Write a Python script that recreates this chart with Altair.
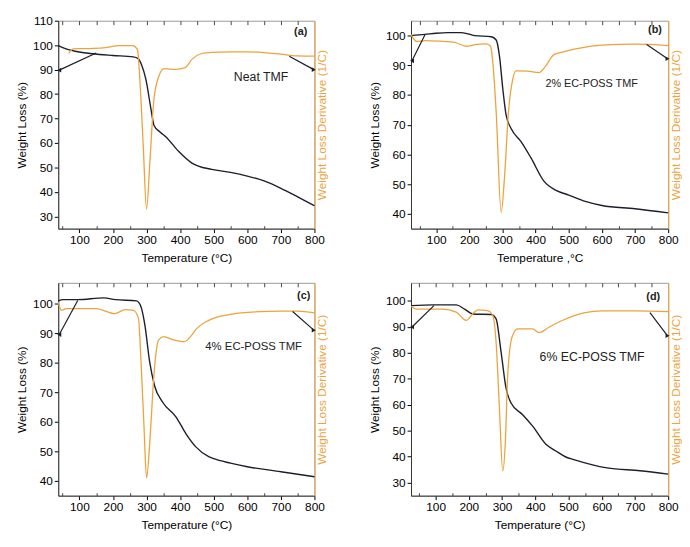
import altair as alt
import pandas as pd

BLACK = "#1c1f2b"
ORANGE = "#ECA33C"
FONT = "Liberation Sans"

X_TICKS = [100, 200, 300, 400, 500, 600, 700, 800]
X_MINOR = [50, 100, 150, 200, 250, 300, 350, 400, 450, 500, 550, 600, 650, 700, 750]
X_MINOR_BOTTOM = [50, 150, 250, 350, 450, 550, 650, 750]

# ---- Panel (a): Neat TMF ----
TA_W = [37, 60, 100, 140, 200, 260, 275, 285, 298, 313, 322, 340, 357, 396, 435, 494, 550, 600, 650, 700, 750, 800]
WA = [99.8, 98.5, 97.2, 96.5, 95.8, 95.2, 94.5, 92, 86, 74, 67.3, 64.5, 62.6, 56.5, 51.8, 49.2, 48, 46.5, 44.5, 41.5, 38, 34.4]
TA_D = [68, 82, 120, 170, 220, 259, 273, 280, 290, 300, 310, 322, 337, 352, 386, 415, 435, 464, 494, 550, 600, 650, 700, 750, 800]
DA = [96.6, 98.5, 98.6, 98.9, 99.8, 99.8, 98.2, 86, 59.2, 33, 52.5, 78, 87.5, 90.4, 90.1, 90.8, 94.2, 96.6, 97.1, 97.3, 97.3, 97.0, 96.3, 95.6, 95.5]
ARROWS_A = [(150, 96.8, 40, 89.8), (725, 95.5, 798, 90.0)]

# ---- Panel (b): 2% EC-POSS TMF ----
TB_W = [24, 66, 100, 136, 176, 216, 266, 281, 291, 301, 311, 326, 356, 386, 425, 465, 500, 550, 600, 700, 800]
WB = [100, 100.4, 100.8, 101, 101, 100, 99.6, 98.5, 93, 82, 73.2, 68.7, 64.3, 58.8, 51, 47.7, 46.3, 44.2, 42.8, 41.7, 40.3]
TB_D = [24, 41, 66, 110, 156, 191, 221, 251, 264, 271, 281, 296, 306, 318, 331, 341, 376, 410, 430, 455, 480, 520, 600, 700, 800]
DB = [100.3, 98, 98.3, 98.1, 97.7, 96.4, 97, 97.2, 96.4, 90.8, 74.2, 40.5, 52.1, 74.2, 85.3, 88.1, 88, 87.5, 89.7, 93.6, 94.4, 95.5, 96.8, 97.1, 96.6]
ARROWS_B = [(66, 100.3, 27, 91.5), (735, 97.0, 798, 92.2)]

# ---- Panel (c): 4% EC-POSS TMF ----
TC_W = [37, 51, 95, 173, 207, 270, 282, 295, 309, 324, 348, 388, 417, 446, 485, 500, 550, 600, 700, 800]
WC = [100.9, 101.3, 101.3, 101.9, 101.3, 100.9, 99.3, 92.7, 80.4, 72.1, 66.6, 61.6, 56, 51.6, 48.2, 47.5, 46, 44.8, 43.1, 41.4]
TC_D = [37, 47, 60, 100, 150, 205, 237, 261, 276, 283, 292, 300, 310, 322, 336, 351, 380, 412, 431, 450, 485, 550, 600, 700, 750, 800]
DC = [100.5, 97.7, 98.3, 98.3, 98.3, 96.6, 97.9, 97.7, 94.9, 81.6, 59.3, 41, 53.8, 76, 87.7, 88.8, 87.7, 87.1, 88.8, 91.6, 94.3, 96.3, 97, 97.4, 97.4, 96.8]
ARROWS_C = [(95, 101.0, 40, 89.5), (735, 97.3, 798, 91.0)]

# ---- Panel (d): 6% EC-POSS TMF ----
TD_W = [26, 92, 162, 187, 212, 267, 282, 297, 312, 327, 362, 392, 432, 462, 492, 516, 616, 715, 800]
WD = [98.2, 98.5, 98.5, 96.9, 95, 94.8, 93.1, 80.4, 66.4, 60.7, 56.2, 51.8, 44.8, 42.2, 39.9, 38.9, 35.7, 34.6, 33.3]
TD_D = [26, 42, 62, 120, 162, 192, 212, 227, 256, 272, 282, 292, 302, 310, 317, 330, 347, 392, 411, 441, 481, 550, 600, 700, 800]
DD = [98, 96.9, 96.9, 96.9, 95.7, 92.5, 95.1, 96.6, 96.3, 94.4, 84.2, 58.8, 34.6, 46, 71.5, 86.1, 89.3, 89.3, 87.8, 89.9, 92.5, 95.5, 96.2, 96.2, 95.9]
ARROWS_D = [(95, 98.2, 29, 90.0), (745, 95.5, 798, 86.6)]

PANELS = [
    dict(tag="(a)", TW=TA_W, W=WA, TD=TA_D, D=DA, arrows=ARROWS_A, xdom=[37, 800],
         dom=[25, 110], yticks=[30, 40, 50, 60, 70, 80, 90, 100, 110],
         name="Neat TMF", name_xy=(641, 86.8), name_size=12.5, tag_xy=(759, 105.3),
         xtitle="Temperature (°C)"),
    dict(tag="(b)", TW=TB_W, W=WB, TD=TB_D, D=DB, arrows=ARROWS_B, xdom=[24, 800],
         dom=[35, 105], yticks=[40, 50, 60, 70, 80, 90, 100],
         name="2% EC-POSS TMF", name_xy=(569, 83.6), name_size=11, tag_xy=(760, 101.9),
         xtitle="Temperature ,°C"),
    dict(tag="(c)", TW=TC_W, W=WC, TD=TC_D, D=DC, arrows=ARROWS_C, xdom=[37, 800],
         dom=[35, 107], yticks=[40, 50, 60, 70, 80, 90, 100],
         name="4% EC-POSS TMF", name_xy=(619, 85.3), name_size=11.5, tag_xy=(768, 102.5),
         xtitle="Temperature (°C)"),
    dict(tag="(d)", TW=TD_W, W=WD, TD=TD_D, D=DD, arrows=ARROWS_D, xdom=[26, 800],
         dom=[25, 107], yticks=[30, 40, 50, 60, 70, 80, 90, 100],
         name="6% EC-POSS TMF", name_xy=(571, 78.4), name_size=12.5, tag_xy=(755, 101.5),
         xtitle="Temperature (°C)"),
]


def panel(p, w, h):
    xsc = alt.Scale(domain=p["xdom"], nice=False, zero=False)
    ysc = alt.Scale(domain=p["dom"], nice=False, zero=False)
    xaxis = alt.Axis(values=X_TICKS, title=p["xtitle"], grid=False, orient="bottom", labelFlush=False,
                     labelColor="black", tickColor="black", domainColor="#333", titlePadding=7)

    dfw = pd.DataFrame({"T": p["TW"], "V": p["W"]})
    dfd = pd.DataFrame({"T": p["TD"], "V": p["D"]})
    dfa = pd.DataFrame(p["arrows"], columns=["T", "V", "T2", "V2"])
    dfa["shp"] = ["triangle-left", "triangle-right"]
    dft = pd.DataFrame({"T": X_MINOR, "V": [p["dom"][0]] * len(X_MINOR)})
    dfb = pd.DataFrame({"T": X_MINOR_BOTTOM, "V": [p["dom"][0]] * len(X_MINOR_BOTTOM)})

    black = alt.Chart(dfw).mark_line(color=BLACK, strokeWidth=1.4, interpolate="monotone").encode(
        x=alt.X("T:Q", scale=xsc, axis=xaxis),
        y=alt.Y("V:Q", scale=ysc, axis=alt.Axis(values=p["yticks"], title="Weight Loss (%)", grid=False,
                                                 orient="left", labelColor="black", tickColor="black",
                                                 domainColor="#333")),
    )
    orange = alt.Chart(dfd).mark_line(color=ORANGE, strokeWidth=1.3, interpolate="monotone").encode(
        x=alt.X("T:Q", scale=xsc, axis=None),
        y=alt.Y("V:Q", scale=ysc, axis=alt.Axis(orient="right", labels=False, ticks=False, grid=False,
                                                 title="Weight Loss Derivative (1/C)", titleColor=ORANGE,
                                                 domainColor=ORANGE, titleAngle=270, titleBaseline="top",
                                                 titlePadding=2)),
    )
    rules = alt.Chart(dfa).mark_rule(color=BLACK, strokeWidth=1.2).encode(
        x=alt.X("T:Q", scale=xsc, axis=None),
        y=alt.Y("V:Q", scale=ysc, axis=None),
        x2="T2:Q", y2="V2:Q",
    )
    heads = alt.Chart(dfa).mark_point(filled=True, color=BLACK, size=22, opacity=1).encode(
        x=alt.X("T2:Q", scale=xsc, axis=None),
        y=alt.Y("V2:Q", scale=ysc, axis=None),
        shape=alt.Shape("shp:N", scale=None),
    )
    name = alt.Chart(pd.DataFrame({"T": [p["name_xy"][0]], "V": [p["name_xy"][1]], "label": [p["name"]]})).mark_text(
        font=FONT, fontSize=p["name_size"], color="#222"
    ).encode(x=alt.X("T:Q", scale=xsc, axis=None), y=alt.Y("V:Q", scale=ysc, axis=None), text="label:N")
    tag = alt.Chart(pd.DataFrame({"T": [p["tag_xy"][0]], "V": [p["tag_xy"][1]], "label": [p["tag"]]})).mark_text(
        font=FONT, fontSize=11, fontWeight="bold", color="#222"
    ).encode(x=alt.X("T:Q", scale=xsc, axis=None), y=alt.Y("V:Q", scale=ysc, axis=None), text="label:N")

    top_ticks = alt.Chart(dft).mark_point(opacity=0).encode(
        x=alt.X("T:Q", scale=xsc, axis=alt.Axis(orient="top", values=X_MINOR, labels=False, domain=False,
                                                 tickSize=4, offset=-4, title=None, tickColor="#444",
                                                 grid=False)),
        y=alt.Y("V:Q", scale=ysc, axis=None),
    )
    bottom_minor = alt.Chart(dfb).mark_point(opacity=0).encode(
        x=alt.X("T:Q", scale=xsc, axis=alt.Axis(orient="bottom", values=X_MINOR_BOTTOM, labels=False,
                                                 domain=False, tickSize=3, offset=-3, title=None,
                                                 tickColor="#444", grid=False)),
        y=alt.Y("V:Q", scale=ysc, axis=None),
    )

    return alt.layer(black, orange, rules, heads, name, tag, top_ticks, bottom_minor).resolve_scale(
        x="independent", y="independent").properties(width=w, height=h)


A = panel(PANELS[0], 260, 211)
B = panel(PANELS[1], 261, 211)
C = panel(PANELS[2], 260, 216)
D = panel(PANELS[3], 261, 216)

chart = alt.vconcat(
    alt.hconcat(A, B, spacing=40),
    alt.hconcat(C, D, spacing=40),
    spacing=18,
).properties(padding={"left": 7, "top": 2, "right": 0, "bottom": 0}).configure_view(
    stroke="#999", strokeWidth=1
).configure_axis(
    labelFont=FONT, titleFont=FONT, labelFontSize=12, titleFontSize=12, titleFontWeight="normal",
    titleColor="black", labelPadding=2, tickSize=4,
).configure_text(font=FONT)

chart.save("out.html", embed_options={"renderer": "svg", "actions": False})
